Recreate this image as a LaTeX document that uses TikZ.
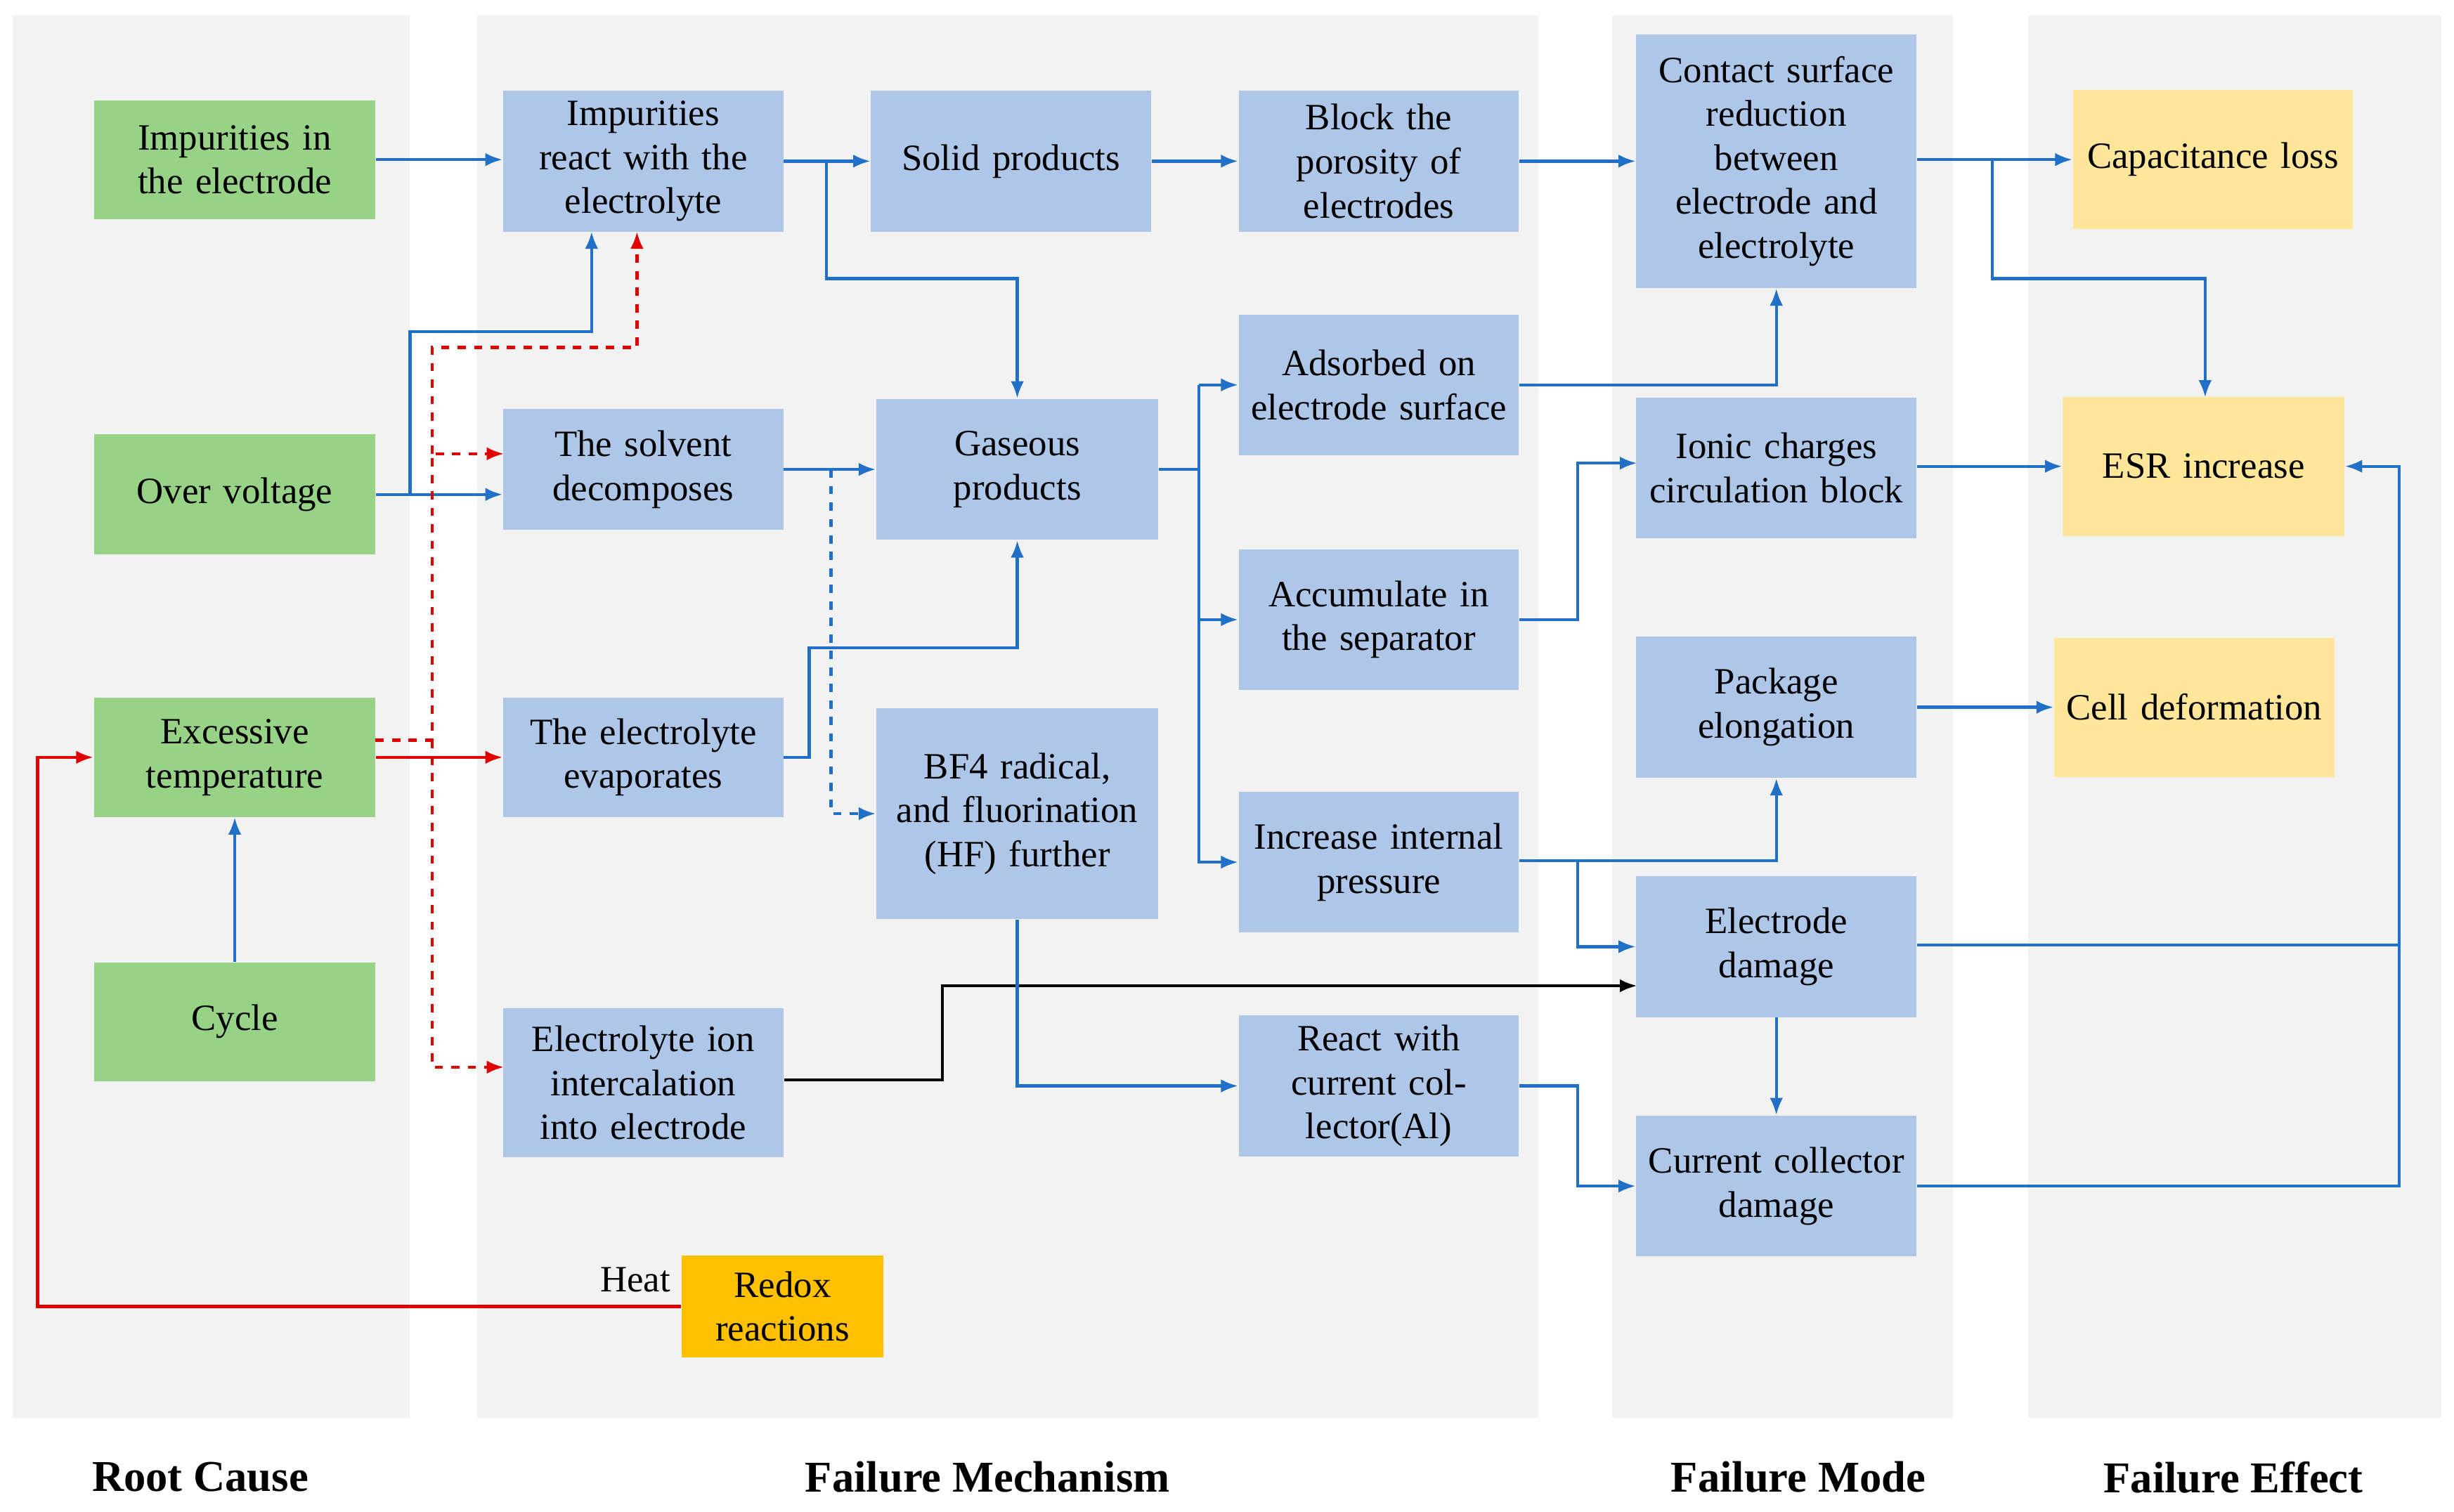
\documentclass[tikz,border=0pt]{standalone}
\usepackage{fontspec}
\setmainfont{Liberation Serif}
\usetikzlibrary{arrows.meta}
\definecolor{bgc}{HTML}{F2F2F2}
\definecolor{grn}{HTML}{97D287}
\definecolor{blu}{HTML}{AEC7E9}
\definecolor{ylw}{HTML}{FFE699}
\definecolor{org}{HTML}{FFC000}
\definecolor{ab}{HTML}{2070C8}
\definecolor{ar}{HTML}{E00000}
\begin{document}
\begin{tikzpicture}[x=0.02cm,y=-0.02cm,
  bx/.style n args={3}{fill=#1,draw=none,minimum width=#2*0.02cm,minimum height=#3*0.02cm,text width=#2*0.02cm-8pt,align=center,inner sep=0pt,font=\fontsize{13.5}{16}\selectfont},
  g/.style 2 args={bx={grn}{#1}{#2}},
  b/.style 2 args={bx={blu}{#1}{#2}},
  y/.style 2 args={bx={ylw}{#1}{#2}},
  ba/.style={draw=ab,line width=1.1pt,-{Latex[length=0.22cm,width=0.17cm]}},
  bl/.style={draw=ab,line width=1.1pt},
  ra/.style={draw=ar,line width=1.1pt,-{Latex[length=0.22cm,width=0.17cm]}},
  rd/.style={ra,dashed},
  lab/.style={font=\fontsize{16}{18}\selectfont\bfseries}]
\useasboundingbox (0,0) rectangle (1568,966);
\fill[bgc] (8,10) rectangle (262,906);
\fill[bgc] (305,10) rectangle (983,906);
\fill[bgc] (1030,10) rectangle (1248,906);
\fill[bgc] (1296,10) rectangle (1560,906);
% nodes
\node[g={180}{76}] (imp) at (150,102) {Impurities in the electrode};
\node[g={180}{77}] (over) at (150,316) {Over voltage};
\node[g={180}{76}] (exc) at (150,484) {Excessive temperature};
\node[g={180}{76}] (cyc) at (150,653) {Cycle};
\node[b={179}{90}] (react) at (411,103) {Impurities react with the electrolyte};
\node[b={179}{77}] (solv) at (411,300) {The solvent decomposes};
\node[b={179}{76}] (evap) at (411,484) {The electrolyte evaporates};
\node[b={179}{95}] (ion) at (411,692) {Electrolyte ion intercalation into electrode};
\node[bx={org}{129}{65}] (redox) at (500,835) {Redox reactions};
\node[b={179}{90}] (solid) at (646,103) {Solid products};
\node[b={180}{90}] (gas) at (650,300) {Gaseous products};
\node[b={180}{135}] (bf4) at (650,520) {BF4 radical, and fluorination (HF) further};
\node[b={179}{90}] (block) at (881,103) {Block the porosity of electrodes};
\node[b={179}{90}] (ads) at (881,246) {Adsorbed on electrode surface};
\node[b={179}{90}] (acc) at (881,396) {Accumulate in the separator};
\node[b={179}{90}] (inc) at (881,551) {Increase internal pressure};
\node[b={179}{90}] (rwc) at (881,694) {React with current collector(Al)};
\node[b={179}{162}] (contact) at (1135,103) {Contact surface reduction between electrode and electrolyte};
\node[b={179}{90}] (ionic) at (1135,299) {Ionic charges circulation block};
\node[b={179}{90}] (pack) at (1135,452) {Package elongation};
\node[b={179}{90}] (edam) at (1135,605) {Electrode damage};
\node[b={179}{90}] (cdam) at (1135,758) {Current collector damage};
\node[y={179}{89}] (cap) at (1414,102) {Capacitance loss};
\node[y={180}{89}] (esr) at (1408,298) {ESR increase};
\node[y={179}{89}] (cell) at (1402,452) {Cell deformation};
% labels
\node[lab] (l1) at (128,944) {Root Cause};
\node[lab] (l2) at (631,944) {Failure Mechanism};
\node[lab] (l3) at (1149,944) {Failure Mode};
\node[lab] (l4) at (1427,944) {Failure Effect};
% coordinates
\coordinate (c1) at (262,316);
% edges
\draw[ba] (imp.east) -- (react.west |- imp.east);
\draw[ba] (over.east) -- (solv.west |- over.east);
\draw[ba] (c1) -- (262,212) -- (378,212) -- (378,148);
\draw[ba] (cyc.north) -- (exc.south);
\draw[rd] (240,473) -- (276,473) -- (276,290) -- (322,290);
\draw[rd] (276,290) -- (276,222) -- (407,222) -- (407,148);
\draw[rd] (276,473) -- (276,682) -- (322,682);
\draw[ra] (exc.east) -- (evap.west);
\draw[ra] (redox.west) -- (24,835) -- (24,484) -- (exc.west);
\node[font=\fontsize{13.5}{16}\selectfont] (heat) at (406,818) {Heat};
\draw[ba] (react.east) -- (solid.west);
\draw[ba] (528,102) -- (528,178) -- (650,178) -- (gas.north);
\draw[ba] (solv.east) -- (gas.west);
\draw[ba,dashed] (531,300) -- (531,520) -- (bf4.west);
\draw[ba] (evap.east) -- (517,484) -- (517,414) -- (650,414) -- (gas.south);
\draw[ba] (solid.east) -- (block.west);
\draw[ba] (block.east) -- (contact.west |- block.east);
\draw[bl] (gas.east) -- (766,300);
\draw[ba] (766,246) -- (ads.west);
\draw[ba] (766,246) -- (766,551) -- (inc.west);
\draw[ba] (766,396) -- (acc.west);
\draw[ba] (ads.east) -- (1135,246) -- (contact.south);
\draw[ba] (acc.east) -- (1008,396) -- (1008,296) -- (1046,296);
\draw[ba] (971,550) -- (1135,550) -- (pack.south);
\draw[ba] (1008,550) -- (1008,605) -- (edam.west);
\draw[line width=1.1pt,-{Latex[length=0.22cm,width=0.17cm]}] (501,690) -- (602,690) -- (602,630) -- (1046,630);
\draw[ba] (bf4.south) -- (650,694) -- (rwc.west);
\draw[ba] (rwc.east) -- (1008,694) -- (1008,758) -- (cdam.west);
\draw[ba] (edam.south) -- (cdam.north);
\draw[ba] (contact.east |- cap.west) -- (cap.west);
\draw[ba] (1273,102) -- (1273,178) -- (1409,178) -- (1409,254);
\draw[ba] (ionic.east |- esr.west) -- (esr.west);
\draw[ba] (pack.east) -- (cell.west);
\draw[ba] (edam.east |- 0,604) -- (1533,604) -- (1533,298) -- (esr.east);
\draw[bl] (cdam.east) -- (1533,758) -- (1533,604);
\end{tikzpicture}
\end{document}
